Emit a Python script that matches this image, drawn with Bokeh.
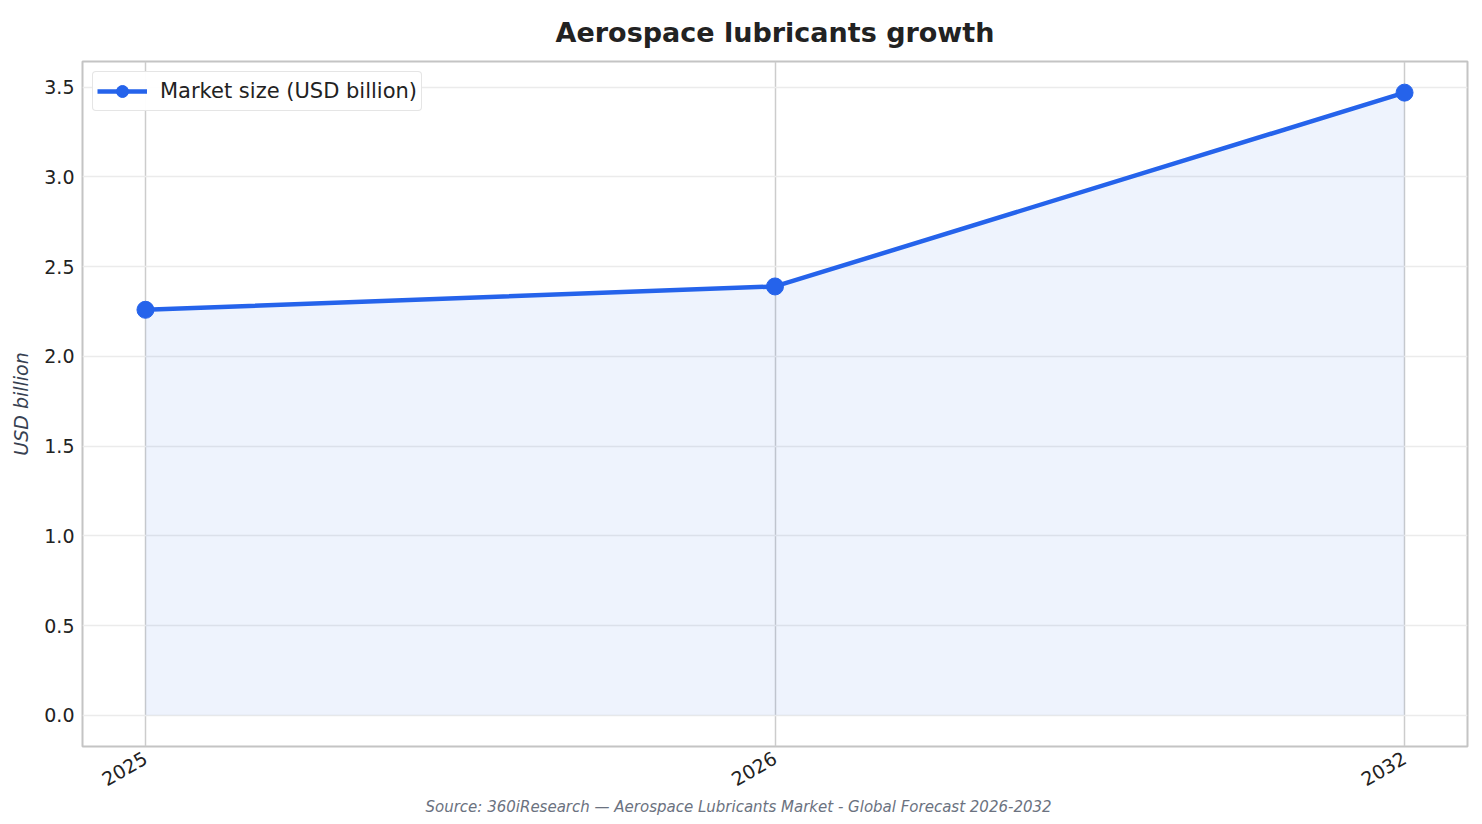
import math
from bokeh.plotting import figure
from bokeh.models import ColumnDataSource, FixedTicker, Range1d, Title, Legend, LegendItem
from bokeh.embed import file_html
from bokeh.resources import INLINE

years = ["2025", "2026", "2032"]
market_size = [2.26, 2.39, 3.47]

xs = list(range(len(years)))
src = ColumnDataSource(dict(x=xs, y=market_size, zero=[0] * len(xs)))

FONT = "DejaVu Sans"
BLUE = "#2563eb"

p = figure(width=1474, height=816, output_backend="svg", toolbar_location=None,
           x_range=Range1d(-0.1, 2.1), y_range=Range1d(-0.1735, 3.6435),
           min_border_left=82, min_border_right=7, min_border_top=61, min_border_bottom=70)

p.title.text = "Aerospace lubricants growth"
p.title.text_font = FONT
p.title.text_font_size = "27px"
p.title.text_font_style = "bold"
p.title.text_color = "#222222"
p.title.align = "center"
p.title.standoff = 28

p.outline_line_color = "#c4c4c4"
p.outline_line_width = 2

p.xaxis.ticker = FixedTicker(ticks=xs)
p.xaxis.major_label_overrides = {i: y for i, y in zip(xs, years)}
p.xaxis.major_label_orientation = math.pi / 6
p.xaxis.major_label_standoff = 10
p.yaxis.ticker = FixedTicker(ticks=[0, 0.5, 1.0, 1.5, 2.0, 2.5, 3.0, 3.5])
p.yaxis.major_label_overrides = {0: "0.0", 1: "1.0", 2: "2.0", 3: "3.0"}
p.yaxis.major_label_standoff = 8

for ax in (p.xaxis, p.yaxis):
    ax.axis_line_color = None
    ax.major_tick_line_color = None
    ax.major_tick_out = 0
    ax.major_tick_in = 0
    ax.minor_tick_line_color = None
    ax.major_label_text_font = FONT
    ax.major_label_text_font_size = "19px"
    ax.major_label_text_color = "#222222"

p.yaxis.axis_label = "USD billion"
p.yaxis.axis_label_text_font = FONT
p.yaxis.axis_label_text_font_size = "19px"
p.yaxis.axis_label_text_font_style = "italic"
p.yaxis.axis_label_text_color = "#374151"
p.yaxis.axis_label_standoff = 9

p.xgrid.grid_line_color = "#cccccc"
p.xgrid.grid_line_width = 1.5
p.ygrid.grid_line_color = "#ebebeb"
p.ygrid.grid_line_width = 1.5

p.varea(x="x", y1="zero", y2="y", source=src, fill_color=BLUE, fill_alpha=0.08)
ln = p.line("x", "y", source=src, line_color=BLUE, line_width=4.5)
sc = p.scatter("x", "y", source=src, size=17, fill_color=BLUE, line_color=BLUE)

legend = Legend(items=[LegendItem(label="Market size (USD billion)", renderers=[ln, sc])],
                location="top_left")
legend.label_text_font = FONT
legend.label_text_font_size = "21px"
legend.label_text_color = "#222222"
legend.border_line_color = "#cccccc"
legend.border_line_width = 1.5
legend.border_radius = 4
legend.glyph_width = 50
legend.glyph_height = 30
legend.label_standoff = 13
legend.padding = 4
legend.margin = 10
legend.spacing = 0
p.add_layout(legend)

source = Title(text="Source: 360iResearch \u2014 Aerospace Lubricants Market - Global Forecast 2026-2032",
               align="left", offset=343, text_font=FONT, text_font_size="15px",
               text_font_style="italic", text_color="#6b7280", standoff=0)
p.add_layout(source, "below")

open("out.html", "w").write(file_html(p, INLINE))
